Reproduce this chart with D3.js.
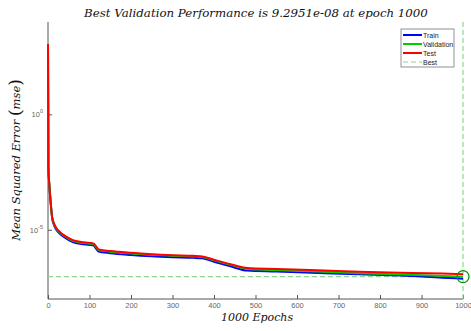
<!DOCTYPE html>
<html>
<head>
<meta charset="utf-8">
<script src="https://cdn.jsdelivr.net/npm/d3@7"></script>
<style>
  html, body { margin: 0; padding: 0; background: #fff; }
  svg { display: block; }
</style>
</head>
<body>
<svg id="chart" width="471" height="331"></svg>
<script>
// Training record: epochs sampled along the run, mean squared error per split
const epochs = [0, 1, 3, 6, 10, 15, 20, 30, 40, 60, 80, 100, 110, 115, 122, 150, 200, 250, 300, 350, 372, 400, 440, 480, 550, 650, 750, 850, 950, 1000];
const trainMse = [1.1e3, 5.0e-3, 1.0e-3, 1.9e-4, 3.3e-5, 1.5e-5, 1.0e-5, 6.4e-6, 4.7e-6, 2.9e-6, 2.4e-6, 2.2e-6, 2.05e-6, 1.6e-6, 1.15e-6, 0.97e-6, 0.81e-6, 0.71e-6, 0.65e-6, 0.61e-6, 0.58e-6, 0.41e-6, 0.26e-6, 0.17e-6, 0.155e-6, 0.135e-6, 0.118e-6, 0.105e-6, 0.084e-6, 0.076e-6];
const validMse = [1.1e3, 5.0e-3, 1.0e-3, 1.9e-4, 3.4e-5, 1.65e-5, 1.12e-5, 7.2e-6, 5.3e-6, 3.3e-6, 2.75e-6, 2.5e-6, 2.35e-6, 1.85e-6, 1.33e-6, 1.12e-6, 0.93e-6, 0.82e-6, 0.75e-6, 0.7e-6, 0.66e-6, 0.47e-6, 0.3e-6, 0.2e-6, 0.18e-6, 0.155e-6, 0.13e-6, 0.115e-6, 0.1e-6, 9.2951e-8];
const testMse = [1.1e3, 5.0e-3, 1.0e-3, 1.9e-4, 3.5e-5, 1.8e-5, 1.2e-5, 7.6e-6, 5.6e-6, 3.55e-6, 2.95e-6, 2.7e-6, 2.5e-6, 2.0e-6, 1.41e-6, 1.2e-6, 1.0e-6, 0.87e-6, 0.79e-6, 0.74e-6, 0.69e-6, 0.5e-6, 0.32e-6, 0.22e-6, 0.2e-6, 0.178e-6, 0.151e-6, 0.138e-6, 0.126e-6, 0.117e-6];
const bestEpoch = 1000;
const bestValue = 9.2951e-8;
const xTicks = [0, 100, 200, 300, 400, 500, 600, 700, 800, 900, 1000];
const yTicks = [1e0, 1e-5];
const yTickExp = ["0", "-5"];
const seriesNames = ["Train", "Validation", "Test", "Best"];
const seriesColors = ["#0000ff", "#00cc00", "#ff0000", "#8fd48f"];

const svg = d3.select("#chart");
const m = { left: 48, right: 463, top: 22, bottom: 299 };

const x = d3.scaleLinear().domain([0, 1000]).range([m.left, m.right]);
const y = d3.scaleLog().domain([1e-8, 1e4]).range([m.bottom, m.top]);

// Title
svg.append("text")
  .attr("x", 256).attr("y", 17)
  .attr("text-anchor", "middle")
  .style("font-family", "'DejaVu Serif', serif")
  .style("font-style", "italic")
  .style("font-size", "11.8px")
  .attr("fill", "#111")
  .text("Best Validation Performance is 9.2951e-08 at epoch 1000");

// Axes (ticks point inward)
const axisColor = "#555";
const xAxis = svg.append("g")
  .attr("transform", `translate(0,${m.bottom})`)
  .call(d3.axisBottom(x).tickValues(xTicks).tickSizeInner(-4).tickSizeOuter(0).tickPadding(4).tickFormat(d3.format("d")));
const yAxis = svg.append("g")
  .attr("transform", `translate(${m.left},0)`)
  .call(d3.axisLeft(y).tickValues(yTicks).tickSizeInner(-4).tickSizeOuter(0).tickFormat(() => ""));
[xAxis, yAxis].forEach(g => {
  g.select(".domain").attr("stroke", axisColor).attr("stroke-width", 1);
  g.selectAll(".tick line").attr("stroke", axisColor);
  g.selectAll(".tick text")
    .style("font-family", "'Liberation Sans', Arial, sans-serif")
    .style("font-size", "7.5px")
    .attr("fill", "#666");
});
yAxis.select(".domain").attr("d", `M0,${m.top}V${m.bottom}`);
xAxis.select(".domain").attr("d", `M${m.left},0H${m.right}`);

// Y tick labels with superscript exponent
yTicks.forEach((v, i) => {
  const t = svg.append("text")
    .attr("x", m.left - 5).attr("y", y(v) + 3)
    .attr("text-anchor", "end")
    .style("font-family", "'Liberation Sans', Arial, sans-serif")
    .style("font-size", "7.5px")
    .attr("fill", "#666");
  t.append("tspan").text("10");
  t.append("tspan").attr("dy", -4).style("font-size", "5.5px").text(yTickExp[i]);
});

// Axis titles
svg.append("text")
  .attr("x", 257).attr("y", 321)
  .attr("text-anchor", "middle")
  .style("font-family", "'DejaVu Serif', serif")
  .style("font-style", "italic")
  .style("font-size", "11px")
  .attr("fill", "#111")
  .text("1000 Epochs");

const yl = svg.append("text")
  .attr("transform", "translate(20,160) rotate(-90)")
  .attr("text-anchor", "middle")
  .style("font-family", "'DejaVu Serif', serif")
  .style("font-style", "italic")
  .style("font-size", "11.5px")
  .attr("fill", "#111");
yl.append("tspan").text("Mean Squared Error  ");
yl.append("tspan").style("font-style", "normal").style("font-size", "17px").attr("dy", 1).text("(");
yl.append("tspan").attr("dy", -1).text("mse");
yl.append("tspan").style("font-style", "normal").style("font-size", "17px").attr("dy", 1).text(")");

// Best markers: dashed guides through the best validation point
const dash = "5,3";
svg.append("line")
  .attr("x1", x(0)).attr("x2", x(1000))
  .attr("y1", y(bestValue)).attr("y2", y(bestValue))
  .attr("stroke", seriesColors[3]).attr("stroke-width", 1.2).attr("stroke-dasharray", dash);
svg.append("line")
  .attr("x1", x(bestEpoch)).attr("x2", x(bestEpoch))
  .attr("y1", y(1e4)).attr("y2", y(1e-8))
  .attr("stroke", seriesColors[3]).attr("stroke-width", 1.2).attr("stroke-dasharray", dash);

// Performance curves
const line = d3.line()
  .x((d, i) => x(epochs[i]))
  .y(d => y(d))
  .curve(d3.curveMonotoneX);
[trainMse, validMse, testMse].forEach((s, i) => {
  svg.append("path")
    .datum(s)
    .attr("d", line)
    .attr("fill", "none")
    .attr("stroke", seriesColors[i])
    .attr("stroke-width", 2);
});

svg.append("circle")
  .attr("cx", x(bestEpoch)).attr("cy", y(bestValue))
  .attr("r", 6)
  .attr("fill", "none")
  .attr("stroke", "#009a00")
  .attr("stroke-width", 1.3);

// Legend
const lg = svg.append("g").attr("transform", "translate(401,29)");
lg.append("rect")
  .attr("width", 53).attr("height", 38)
  .attr("fill", "#fff").attr("stroke", "#777").attr("stroke-width", 0.8);
seriesNames.forEach((n, i) => {
  const yy = 6 + i * 9;
  lg.append("line")
    .attr("x1", 2).attr("x2", 21).attr("y1", yy).attr("y2", yy)
    .attr("stroke", seriesColors[i])
    .attr("stroke-width", i === 3 ? 1.2 : 2)
    .attr("stroke-dasharray", i === 3 ? "5,3" : null);
  lg.append("text")
    .attr("x", 22).attr("y", yy + 2.5)
    .style("font-family", "'Liberation Sans', Arial, sans-serif")
    .style("font-size", "7px")
    .attr("fill", "#222")
    .text(n);
});
</script>
</body>
</html>
